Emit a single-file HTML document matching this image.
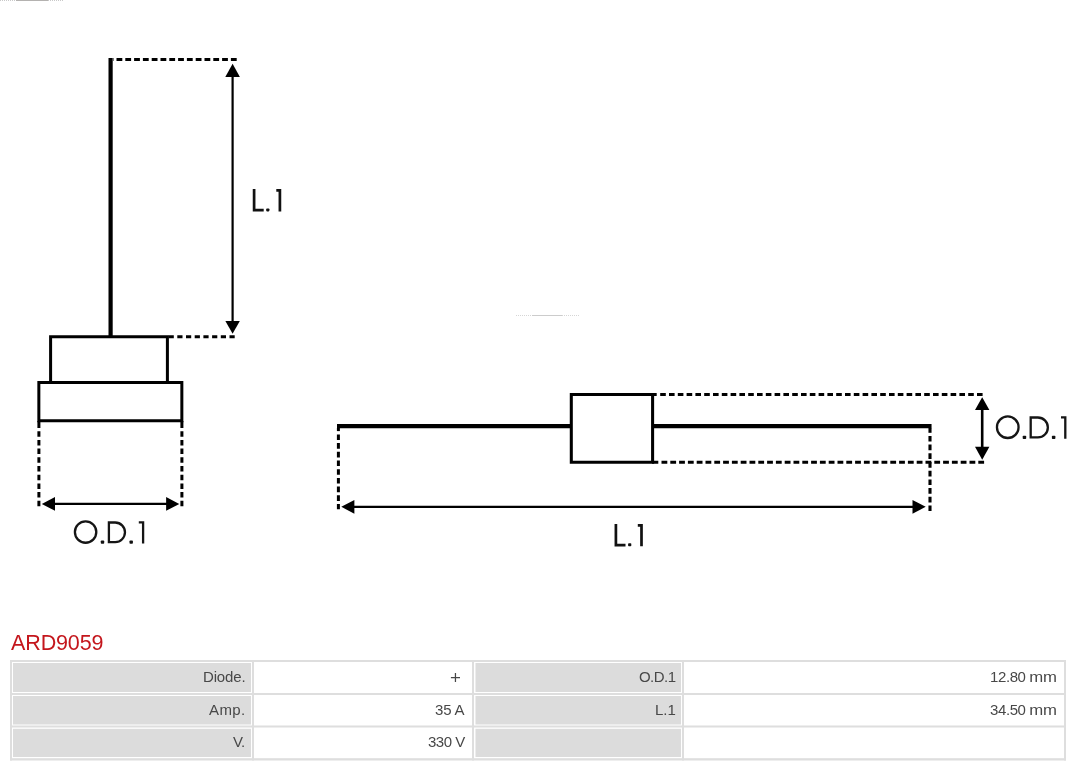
<!DOCTYPE html>
<html>
<head>
<meta charset="utf-8">
<title>ARD9059</title>
<style>
html,body{margin:0;padding:0;background:#fff;}
body{width:1080px;height:766px;position:relative;overflow:hidden;font-family:"Liberation Sans",sans-serif;}
#dia{position:absolute;left:0;top:0;width:1080px;height:620px;}
#ttl{will-change:transform;position:absolute;left:11px;top:631px;font-size:21.5px;line-height:24px;color:#c4161c;white-space:nowrap;letter-spacing:-0.12px;}
.t{will-change:transform;position:absolute;font-size:15px;line-height:18px;color:#484848;white-space:nowrap;text-align:right;}
.mm{display:inline-block;transform:scaleX(1.115);transform-origin:100% 50%;}
.dg{letter-spacing:-0.4px;margin-right:2.6px;}
</style>
</head>
<body>
<svg id="dia" width="1080" height="620" viewBox="0 0 1080 620">
  <g fill="none" stroke="#000">
    <!-- left figure -->
    <path d="M110.6,58 V336.6" stroke-width="4.2"/>
    <path d="M236.7,59.4 H113" stroke-width="3" stroke-dasharray="5.8 3"/>
    <path d="M50.6,382.5 V336.65 H167.4 V382.5" stroke-width="3"/>
    <path d="M38.85,382.45 H181.85 V420.85 H38.85 Z" stroke-width="3"/>
    <path d="M234.7,336.7 H168" stroke-width="3" stroke-dasharray="5.2 3.5"/>
    <path d="M38.9,421 V428" stroke-width="3"/>
    <path d="M181.9,421 V428" stroke-width="3"/>
    <path d="M38.9,506.3 V428" stroke-width="3" stroke-dasharray="5.5 3.2"/>
    <path d="M181.9,506.3 V428" stroke-width="3" stroke-dasharray="5.5 3.2"/>
    <!-- arrows shafts -->
    <path d="M232.6,70 V328" stroke-width="2.2"/>
    <path d="M48,503.9 H173" stroke-width="2.2"/>
    <!-- right figure -->
    <path d="M337,426.05 H570 M654,426.05 H931.55" stroke-width="4.3"/>
    <path d="M571.3,394.5 H652.6 V462.25 H571.3 Z" stroke-width="3.05"/>
    <path d="M652,394.5 H656.7 M652,462.25 H658.3" stroke-width="3.05"/>
    <path d="M660.2,394.5 H983.2" stroke-width="3" stroke-dasharray="5.6 3.2"/>
    <path d="M661.5,462.25 H984.6" stroke-width="3" stroke-dasharray="5.8 3"/>
    <path d="M338.4,428 V431.1" stroke-width="3"/>
    <path d="M338.4,434.4 V509.3" stroke-width="3" stroke-dasharray="5.6 3.1"/>
    <path d="M930,428 V432.8" stroke-width="3.1"/>
    <path d="M930,435.9 V511" stroke-width="3.1" stroke-dasharray="5.7 3"/>
    <path d="M348,506.85 H919" stroke-width="2.2"/>
    <path d="M982.2,404 V453" stroke-width="2.6"/>
  </g>
  <g fill="#000" stroke="none">
    <!-- arrowheads -->
    <path d="M232.6,63.8 L239.9,77 H225.3 Z"/>
    <path d="M232.6,333.8 L239.8,321 H225.4 Z"/>
    <path d="M41.8,503.9 L55,497 V510.8 Z"/>
    <path d="M179.3,503.9 L166.1,497 V510.8 Z"/>
    <path d="M341.3,506.85 L354.4,500 V513.7 Z"/>
    <path d="M925.7,506.85 L912.5,500 V513.7 Z"/>
    <path d="M982.2,397.2 L989.4,410 H975 Z"/>
    <path d="M982.2,459.7 L989.4,446.8 H975 Z"/>
  </g>
  <!-- labels drawn as strokes -->
  <g fill="none" stroke="#151515" stroke-width="2.3">
    <!-- O.D.1 left -->
    <circle cx="85.6" cy="532.05" r="10.7"/>
    <path d="M108.9,522.5 H115.2 A9.8,9.8 0 0 1 115.2,542.1 H108.9 Z"/>
    <path d="M138.8,522.4 H143.1 V543.4"/>
    <!-- O.D.1 right -->
    <circle cx="1007.75" cy="427.2" r="10.8"/>
    <path d="M1030.7,417.5 H1037.9 A9.85,9.85 0 0 1 1037.9,437.4 H1030.7 Z"/>
    <path d="M1061,417.4 H1065.3 V438.8"/>
  </g>
  <g fill="none" stroke="#111" stroke-width="2.7">
    <!-- L.1 left -->
    <path d="M254.1,189 V210.1 H263.7"/>
    <path d="M276.3,190.4 H279.9 V211.4"/>
    <!-- L.1 right -->
    <path d="M615.9,524 V545.1 H625.5"/>
    <path d="M637.8,525.4 H641.5 V546.3"/>
  </g>
  <g fill="#111" stroke="none">
    <rect x="100.8" y="540.4" width="3.4" height="3.3" rx="0.8"/>
    <rect x="129.5" y="540.4" width="3.4" height="3.3" rx="0.8"/>
    <rect x="1022.7" y="435.7" width="3.5" height="3.4" rx="0.8"/>
    <rect x="1051.9" y="435.7" width="3.5" height="3.4" rx="0.8"/>
    <rect x="266.2" y="208.4" width="3.2" height="3" rx="0.8"/>
    <rect x="628.1" y="543.3" width="3.2" height="3" rx="0.8"/>
  </g>
  <!-- faint watermark artefacts -->
  <g stroke="#bbb" stroke-width="1" fill="none">
    <path d="M0,0.5 H64" stroke-dasharray="1 1" opacity="0.8"/>
    <path d="M16,0.5 H48" stroke="#b4b2b0"/>
    <path d="M516,315.5 H580" stroke-dasharray="1 1" opacity="0.6"/>
    <path d="M532,315.5 H562" stroke="#ccc"/>
  </g>
</svg>

<div id="ttl">ARD9059</div>

<!-- table grid (svg for sub-pixel edges) -->
<svg style="position:absolute;left:0;top:655px" width="1080" height="111" viewBox="0 655 1080 111">
  <g fill="#dedede">
    <rect x="10" y="660" width="1056" height="2"/>
    <rect x="10" y="693" width="1056" height="2"/>
    <rect x="10" y="725.5" width="1056" height="2"/>
    <rect x="10" y="758.2" width="1056" height="2.3"/>
    <rect x="10" y="660" width="2" height="100.5"/>
    <rect x="252" y="660" width="2" height="100.5"/>
    <rect x="472" y="660" width="2" height="100.5"/>
    <rect x="682" y="660" width="2" height="100.5"/>
    <rect x="1064" y="660" width="2" height="100.5"/>
  </g>
  <g fill="#dcdcdc">
    <rect x="13" y="663" width="238" height="29"/>
    <rect x="13" y="696" width="238" height="28.5"/>
    <rect x="13" y="728.8" width="238" height="28.2"/>
    <rect x="475.5" y="663" width="205.5" height="29"/>
    <rect x="475.5" y="696" width="205.5" height="28.5"/>
    <rect x="475.5" y="728.8" width="205.5" height="28.2"/>
  </g>
</svg>
<!-- texts -->
<div class="t" style="right:835px;top:668px;letter-spacing:-0.15px">Diode.</div>
<div class="t" style="right:834.6px;top:701px;letter-spacing:0.4px">Amp.</div>
<div class="t" style="right:836px;top:733px;letter-spacing:-0.7px">V.</div>
<div class="t" style="right:615.5px;top:701px;letter-spacing:-0.2px">35 A</div>
<div class="t" style="right:615.2px;top:733px;letter-spacing:-0.5px">330 V</div>
<div class="t" style="right:405px;top:668px;letter-spacing:-0.55px">O.D.1</div>
<div class="t" style="right:404.5px;top:701px">L.1</div>
<div class="t" style="right:23.2px;top:668px"><span class="dg">12.80</span> <span class="mm">mm</span></div>
<div class="t" style="right:23.2px;top:701px"><span class="dg">34.50</span> <span class="mm">mm</span></div>
<svg style="position:absolute;left:449px;top:670px" width="14" height="14" viewBox="0 0 14 14"><path d="M1.9,7.5 H11 M6.45,2.9 V11.9" stroke="#464646" stroke-width="1.25" fill="none"/></svg>
</body>
</html>
